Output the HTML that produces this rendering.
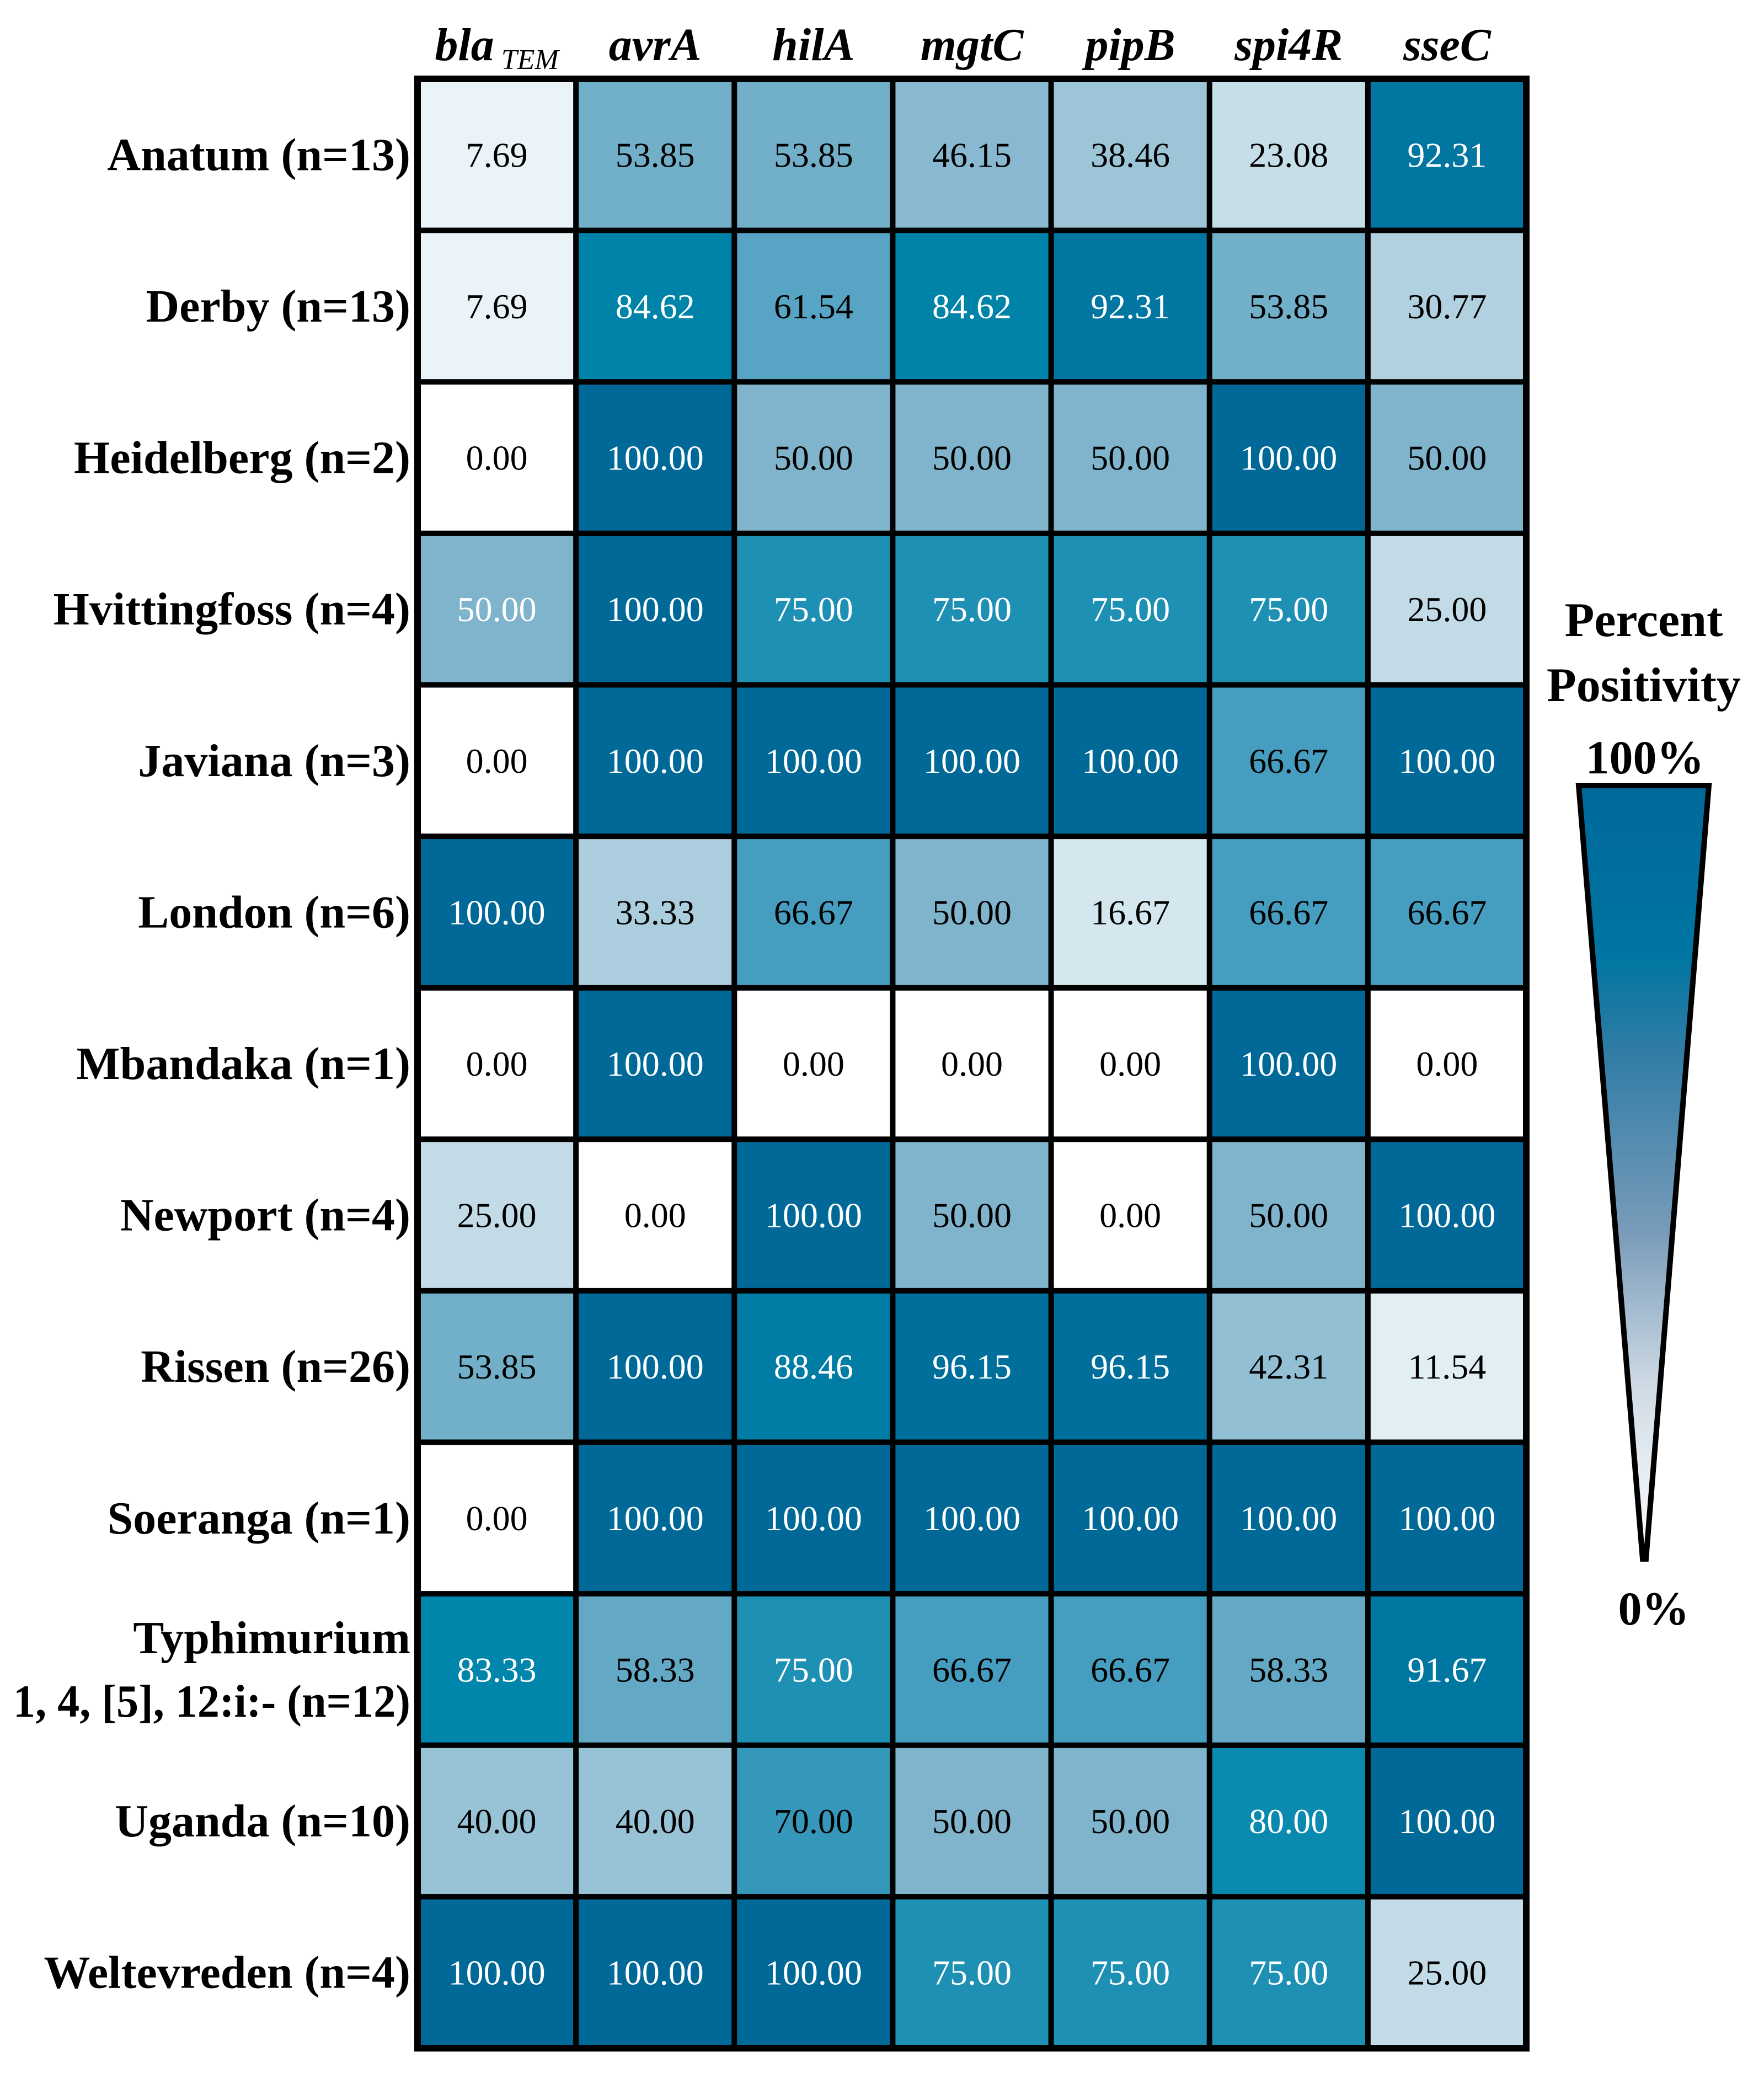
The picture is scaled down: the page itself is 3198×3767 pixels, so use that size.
<!DOCTYPE html>
<html><head><meta charset="utf-8"><style>
html,body{margin:0;padding:0;background:#fff;}
svg{display:block;font-family:"Liberation Serif",serif;}
</style></head><body>
<svg id="chart" width="3198" height="3767" viewBox="0 0 3198 3767" xmlns="http://www.w3.org/2000/svg">
<defs>
<linearGradient id="lg" x1="0" y1="0" x2="0" y2="1">
<stop offset="0" stop-color="#00699a"/>
<stop offset="0.22" stop-color="#0075a2"/>
<stop offset="0.34" stop-color="#2f7ca5"/>
<stop offset="0.58" stop-color="#7a9cba"/>
<stop offset="0.78" stop-color="#d0dbe5"/>
<stop offset="1" stop-color="#ffffff"/>
</linearGradient>
</defs>
<g id="cells"></g>
<g id="labels"></g>
<g id="legend">
<text x="2980" y="1153" font-size="88" font-weight="bold" text-anchor="middle">Percent</text>
<text x="2980" y="1271" font-size="88" font-weight="bold" text-anchor="middle">Positivity</text>
<text x="2982" y="1402" font-size="86" font-weight="bold" text-anchor="middle">100%</text>
<polygon points="2862,1424 3098,1424 2984,2826 2978,2826" fill="url(#lg)" stroke="#000" stroke-width="10" stroke-linejoin="miter"/>
<text x="2998" y="2945" font-size="86" font-weight="bold" text-anchor="middle">0%</text>
</g>
</svg>
<script>
const genes = ["bla", "avrA", "hilA", "mgtC", "pipB", "spi4R", "sseC"];
const serovars = ["Anatum (n=13)", "Derby (n=13)", "Heidelberg (n=2)", "Hvittingfoss (n=4)", "Javiana (n=3)", "London (n=6)", "Mbandaka (n=1)", "Newport (n=4)", "Rissen (n=26)", "Soeranga (n=1)", "Typhimurium|1, 4, [5], 12:i:- (n=12)", "Uganda (n=10)", "Weltevreden (n=4)"];
const blaValues   = [7.69, 7.69, 0, 50, 0, 100, 0, 25, 53.85, 0, 83.33, 40, 100];
const avrAValues  = [53.85, 84.62, 100, 100, 100, 33.33, 100, 0, 100, 100, 58.33, 40, 100];
const hilAValues  = [53.85, 61.54, 50, 75, 100, 66.67, 0, 100, 88.46, 100, 75, 70, 100];
const mgtCValues  = [46.15, 84.62, 50, 75, 100, 50, 0, 50, 96.15, 100, 66.67, 50, 75];
const pipBValues  = [38.46, 92.31, 50, 75, 100, 16.67, 0, 0, 96.15, 100, 66.67, 50, 75];
const spi4RValues = [23.08, 53.85, 100, 75, 66.67, 66.67, 100, 50, 42.31, 100, 58.33, 80, 75];
const sseCValues  = [92.31, 30.77, 50, 25, 100, 66.67, 0, 100, 11.54, 100, 91.67, 100, 25];
const columns = [blaValues, avrAValues, hilAValues, mgtCValues, pipBValues, spi4RValues, sseCValues];

const NS = "http://www.w3.org/2000/svg";
const X0 = 757, X1 = 2767, Y0 = 143, Y1 = 3713;
const cw = (X1 - X0) / genes.length, rh = (Y1 - Y0) / serovars.length;
function xPos(i){ return X0 + i * cw; }
function yPos(j){ return Y0 + j * rh; }
const stops = [[0,[255,255,255]],[7.69,[234,243,247]],[25,[194,219,230]],[40,[152,194,214]],[50,[128,180,204]],[66.67,[69,157,192]],[75,[30,144,180]],[82,[0,135,172]],[100,[0,105,152]]];
function color(v){
  for (let k = 1; k < stops.length; k++){
    if (v <= stops[k][0]){
      const a = stops[k-1], b = stops[k], t = (v - a[0]) / (b[0] - a[0]);
      const c = a[1].map((x, i) => Math.round(x + (b[1][i] - x) * t));
      return `rgb(${c[0]},${c[1]},${c[2]})`;
    }
  }
  return "rgb(0,105,152)";
}
function mk(tag, attrs){ const e = document.createElementNS(NS, tag); for (const k in attrs) e.setAttribute(k, attrs[k]); return e; }
const cells = document.getElementById("cells");
const labels = document.getElementById("labels");
columns.forEach((col, i) => {
  col.forEach((v, j) => {
    const r = mk("rect", {x: xPos(i), y: yPos(j), width: cw, height: rh, fill: color(v)});
    
    
    cells.appendChild(r);
    const white = v >= 75 || (i === 0 && v === 50);
    const t = mk("text", {x: xPos(i) + cw / 2, y: yPos(j) + rh / 2 + 22, "font-size": 64, "text-anchor": "middle", fill: white ? "#fff" : "#000"});
    
    
    t.textContent = v.toFixed(2);
    cells.appendChild(t);
  });
});
for (let i = 0; i <= genes.length; i++){
  const l = mk("line", {x1: xPos(i), x2: xPos(i), y1: Y0 - 6, y2: Y1 + 6, stroke: "#000", "stroke-width": (i === 0 || i === genes.length) ? 12 : 10});
  
  
  cells.appendChild(l);
}
for (let j = 0; j <= serovars.length; j++){
  const l = mk("line", {x1: X0 - 6, x2: X1 + 6, y1: yPos(j), y2: yPos(j), stroke: "#000", "stroke-width": (j === 0 || j === serovars.length) ? 12 : 10});
  
  
  cells.appendChild(l);
}
genes.forEach((g, i) => {
  const t = mk("text", {x: xPos(i) + cw / 2, y: 109, "font-size": 84, "font-style": "italic", "font-weight": "bold", "text-anchor": "middle"});
  
  
  if (g === "bla"){
    t.textContent = "bla";
    const s = mk("tspan", {"font-size": 52, dy: 16, "font-weight": "normal"});
    s.textContent = " TEM";
    t.appendChild(s);
  } else t.textContent = g;
  labels.appendChild(t);
});
serovars.forEach((s, j) => {
  const parts = s.split("|");
  const cy = yPos(j) + rh / 2;
  parts.forEach((p, k) => {
    const y = parts.length === 1 ? cy + 28 : cy + 28 + (k - 0.5) * 115;
    const t = mk("text", {x: 744, y: y, "font-size": 84, "font-weight": "bold", "text-anchor": "end"});
    if (k === 1){
      t.setAttribute("textLength", 720);
      t.setAttribute("lengthAdjust", "spacingAndGlyphs");
    }
    
    
    t.textContent = p;
    labels.appendChild(t);
  });
});
</script>
</body></html>
